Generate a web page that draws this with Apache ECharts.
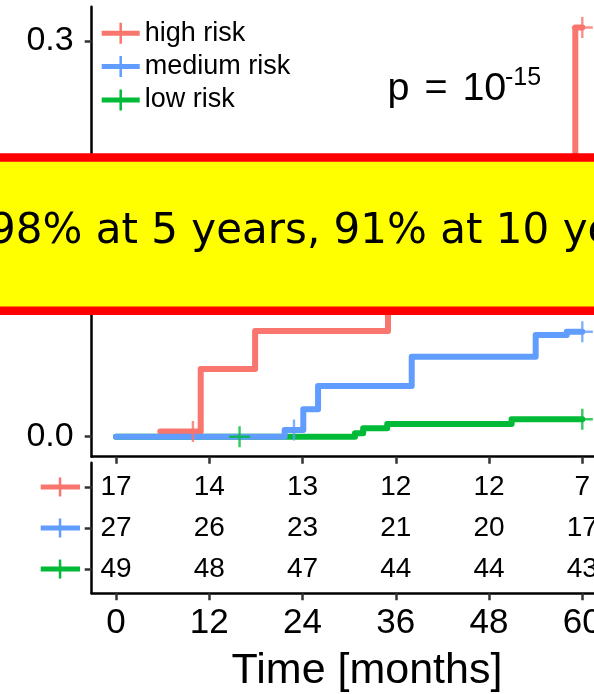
<!DOCTYPE html>
<html><head><meta charset="utf-8">
<script src="https://cdn.jsdelivr.net/npm/echarts@6/dist/echarts.min.js"></script>
<style>
html,body{margin:0;padding:0;width:594px;height:694px;overflow:hidden;background:#fff;}
#wrap{width:594px;height:694px;overflow:hidden;position:relative;}
#chart{width:700px;height:694px;}
</style></head><body>
<div id="wrap"><div id="chart"></div></div>
<script>
// ---- data ----
const groups = ['high risk', 'medium risk', 'low risk'];
const colors = ['#F8766D', '#619CFF', '#00BA38'];
const timeTicks = [0, 12, 24, 36, 48, 60];
const yTicks = [0, 0.1, 0.2, 0.3];
// step curves: [month, cumulative incidence]
const highRisk = [[5.7, 0.004], [10.9, 0.0513], [17.9, 0.08], [35.0, 0.17], [59.1, 0.31], [60, 0.31]];
const mediumRisk = [[0, 0], [21.7, 0.005], [24.1, 0.0208], [26.0, 0.0384], [38.05, 0.0606], [54.0, 0.077], [58.0, 0.0795], [60, 0.0795]];
const lowRisk = [[0, 0], [30.75, 0.0026], [31.8, 0.0064], [34.9, 0.0096], [50.9, 0.0132], [60, 0.0132]];
// censoring marks
const highCens = [[9.9, 0.004], [60, 0.31]];
const mediumCens = [[22.9, 0.005], [60, 0.0795]];
const lowCens = [[15.9, 0], [60, 0.0132]];
// numbers at risk
const atRiskHigh = [17, 14, 13, 12, 12, 7];
const atRiskMedium = [27, 26, 23, 21, 20, 17];
const atRiskLow = [49, 48, 47, 44, 44, 43];
const xTitle = 'Time [months]';
const pText = ['p', '=', '10', '-15'];
const bannerText = '98% at 5 years, 91% at 10 years';

// ---- layout ----
const FONT = '"Liberation Sans", Arial, Helvetica, sans-serif';
const PXM = 7.7717;           // px per month
const xMin = -3.127, xMax = 72;
const gridW = (xMax - xMin) * PXM;
const curves = [highRisk, mediumRisk, lowRisk];
const cens = [highCens, mediumCens, lowCens];
const atRisk = [atRiskHigh, atRiskMedium, atRiskLow];
const crossPath = 'path://M9.3,0L11.7,0L11.7,9.3L21,9.3L21,11.7L11.7,11.7L11.7,21L9.3,21L9.3,11.7L0,11.7L0,9.3L9.3,9.3Z';
const legendPath = 'path://M0,8L38,8L38,13L0,13Z M17.75,0L20.25,0L20.25,21L17.75,21Z';

const chart = echarts.init(document.getElementById('chart'));

const axisLine = { show: true, onZero: false, lineStyle: { color: '#000', width: 2.5 } };
const tick = (vals) => ({ show: true, length: 7, customValues: vals, lineStyle: { color: '#333', width: 2.5 } });

const series = [];
[2, 0, 1].forEach(i => {
  series.push({
    name: groups[i], type: 'line', xAxisIndex: 0, yAxisIndex: 0,
    step: 'end', data: curves[i], showSymbol: false, symbol: 'none',
    lineStyle: { color: colors[i], width: 6, cap: 'round', join: 'round' },
    itemStyle: { color: colors[i], borderWidth: 0 }, z: 2
  });
});
[2, 0, 1].forEach(i => {
  series.push({
    name: groups[i] + ' censored', type: 'scatter', xAxisIndex: 0, yAxisIndex: 0,
    data: cens[i], symbol: crossPath, symbolSize: 21,
    itemStyle: { color: colors[i] }, z: 3
  });
});
[0, 1, 2].forEach(i => {
  series.push({
    name: groups[i] + ' at risk', type: 'scatter', xAxisIndex: 1, yAxisIndex: 1,
    data: timeTicks.map((t, k) => [t, i + 1, atRisk[i][k]]),
    symbolSize: 2, itemStyle: { color: 'rgba(255,255,255,0)' },
    label: { show: true, position: 'inside', formatter: p => String(p.value[2]),
      fontSize: 28, fontFamily: FONT, color: '#000', opacity: 1, textBorderWidth: 0 },
    z: 4
  });
});

chart.setOption({
  animation: false,
  backgroundColor: '#fff',
  grid: [
    { left: 91.7, top: 6.7, width: gridW, height: 450 },
    { left: 91.7, top: 462.7, width: gridW, height: 130.6 }
  ],
  xAxis: [
    { type: 'value', gridIndex: 0, min: xMin, max: xMax, position: 'bottom',
      axisLine, axisTick: tick(timeTicks.concat([72])), axisLabel: { show: false }, splitLine: { show: false } },
    { type: 'value', gridIndex: 1, min: xMin, max: xMax, position: 'bottom',
      axisLine, axisTick: tick(timeTicks.concat([72])),
      axisLabel: { show: true, customValues: timeTicks, fontSize: 35, fontFamily: FONT, color: '#000', margin: 12.5 },
      splitLine: { show: false } }
  ],
  yAxis: [
    { type: 'value', gridIndex: 0, min: -0.01515, max: 0.3258,
      axisLine, axisTick: tick(yTicks),
      axisLabel: { show: true, customValues: yTicks, formatter: v => v.toFixed(1), fontSize: 34, fontFamily: FONT, color: '#000', margin: 18 },
      splitLine: { show: false } },
    { type: 'value', gridIndex: 1, min: 0.41, max: 3.59, inverse: true,
      axisLine, axisTick: tick([1, 2, 3]), axisLabel: { show: false }, splitLine: { show: false } }
  ],
  legend: {
    data: groups, orient: 'vertical', left: 101.7, top: 19.8, padding: 0, itemGap: 6.3,
    itemWidth: 38, itemHeight: 21, icon: legendPath, itemStyle: { borderWidth: 0 },
    textStyle: { fontSize: 27, fontFamily: FONT, color: '#000', lineHeight: 27, padding: [0, 0, 0, 0] },
    selectedMode: false
  },
  series
});

// graphics: risk-table row icons, p-value, axis title, banner
const g = [];
[0, 1, 2].forEach(i => {
  const y = chart.convertToPixel({ yAxisIndex: 1 }, i + 1);
  g.push({ type: 'rect', shape: { x: 40.7, y: y - 2.5, width: 39.3, height: 5 }, style: { fill: colors[i] }, z: 5 });
  g.push({ type: 'rect', shape: { x: 58.8, y: y - 9.5, width: 2.5, height: 19 }, style: { fill: colors[i] }, z: 5 });
});
g.push({ type: 'text', style: { text: pText[0], x: 387.5, y: 89.6, fontSize: 39.5, fontFamily: FONT, fill: '#000', align: 'left', verticalAlign: 'middle' }, z: 5 });
g.push({ type: 'text', style: { text: pText[1], x: 424.4, y: 89.6, fontSize: 39.5, fontFamily: FONT, fill: '#000', align: 'left', verticalAlign: 'middle' }, z: 5 });
g.push({ type: 'text', style: { text: pText[2], x: 462.4, y: 89.6, fontSize: 39.5, fontFamily: FONT, fill: '#000', align: 'left', verticalAlign: 'middle' }, z: 5 });
g.push({ type: 'text', style: { text: pText[3], x: 505, y: 78.6, fontSize: 25, fontFamily: FONT, fill: '#000', align: 'left', verticalAlign: 'middle' }, z: 5 });
g.push({ type: 'text', style: { text: xTitle, x: 367, y: 671, fontSize: 43, fontFamily: FONT, fill: '#000', align: 'center', verticalAlign: 'middle' }, z: 5 });
g.push({ type: 'rect', shape: { x: -20, y: 157.5, width: 760, height: 153.3 }, style: { fill: '#FFFF00', stroke: '#FF0000', lineWidth: 8.5 }, z: 100 });
g.push({ type: 'text', style: { text: bannerText, x: -11, y: 232.5, fontSize: 42, fontFamily: '"DejaVu Sans", Verdana, sans-serif', fill: '#000', align: 'left', verticalAlign: 'middle' }, z: 101 });
chart.setOption({ graphic: g });
</script>
</body></html>
